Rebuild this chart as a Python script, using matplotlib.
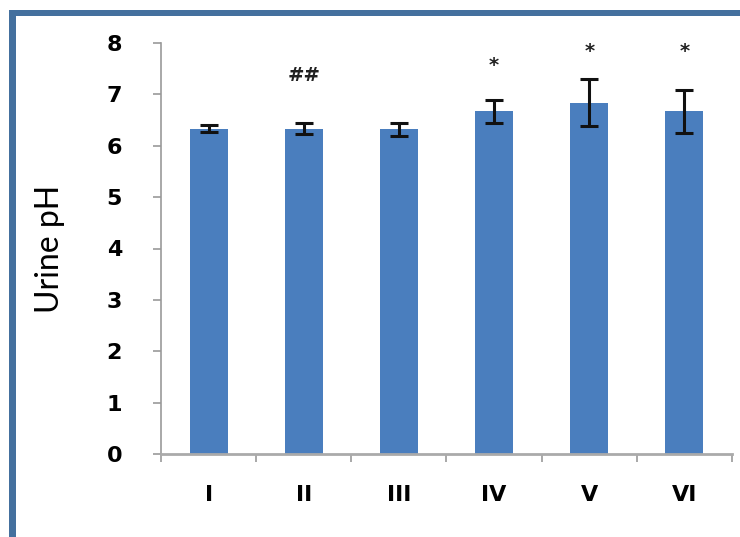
import matplotlib
matplotlib.use("Agg")
import matplotlib.pyplot as plt
from matplotlib.patches import Rectangle
import numpy as np

# Urine pH per treatment group (mean ± error)
groups = ["I", "II", "III", "IV", "V", "VI"]
ph_mean = [6.33, 6.33, 6.32, 6.67, 6.84, 6.67]
ph_err = [0.065, 0.11, 0.13, 0.22, 0.46, 0.42]
marks = ["", "##", "", "*", "*", "*"]
mark_y = [None, 7.37, None, 7.57, 7.83, 7.83]
y_ticks = [0, 1, 2, 3, 4, 5, 6, 7, 8]

W, H = 740, 537
fig = plt.figure(figsize=(W / 100, H / 100), dpi=100)
fig.patch.set_facecolor("white")

# blue frame around the panel (top and left edges)
frame_col = "#44709e"
fig.add_artist(Rectangle((9 / W, 1 - 16 / H), (W - 9) / W, 6 / H,
                         transform=fig.transFigure, color=frame_col, lw=0))
fig.add_artist(Rectangle((9 / W, 0), 7 / W, 1 - 10 / H,
                         transform=fig.transFigure, color=frame_col, lw=0))

ax = fig.add_axes([161 / W, (H - 454) / H, 571 / W, 411 / H])
x = np.arange(len(groups))
ax.bar(x, ph_mean, width=0.4, color="#4a7ebe", zorder=2)
ax.errorbar(x, ph_mean, yerr=ph_err, fmt="none", ecolor="#111111",
            elinewidth=2.2, capsize=6.5, capthick=2.2, zorder=3)

for xi, m, my in zip(x, marks, mark_y):
    if m:
        ax.text(xi, my, m, ha="center", va="center", fontsize=14,
                fontweight="bold", color="#222222")

ax.set_xlim(-0.5, len(groups) - 0.5)
ax.set_ylim(0, 8)
ax.set_yticks(y_ticks)
ax.set_yticklabels([str(t) for t in y_ticks], fontsize=16, fontweight="bold")
ax.set_xticks(x)
ax.set_xticklabels(groups, fontsize=16, fontweight="bold")
ax.set_xticks(np.arange(-0.5, len(groups)), minor=True)
ax.tick_params(axis="x", which="major", length=0, pad=22)
ax.tick_params(axis="x", which="minor", length=6, color="#999999", width=1.2)
ax.tick_params(axis="y", length=6, color="#999999", width=1.2, pad=22)

for side in ["top", "right"]:
    ax.spines[side].set_visible(False)
ax.spines["left"].set_color("#999999")
ax.spines["left"].set_linewidth(1.2)
ax.spines["bottom"].set_color("#aaaaaa")
ax.spines["bottom"].set_linewidth(2)

ax.set_ylabel("Urine pH", family=["Lato", "DejaVu Sans"],
              fontsize=23, labelpad=30)

fig.savefig("out.png", dpi=100)
